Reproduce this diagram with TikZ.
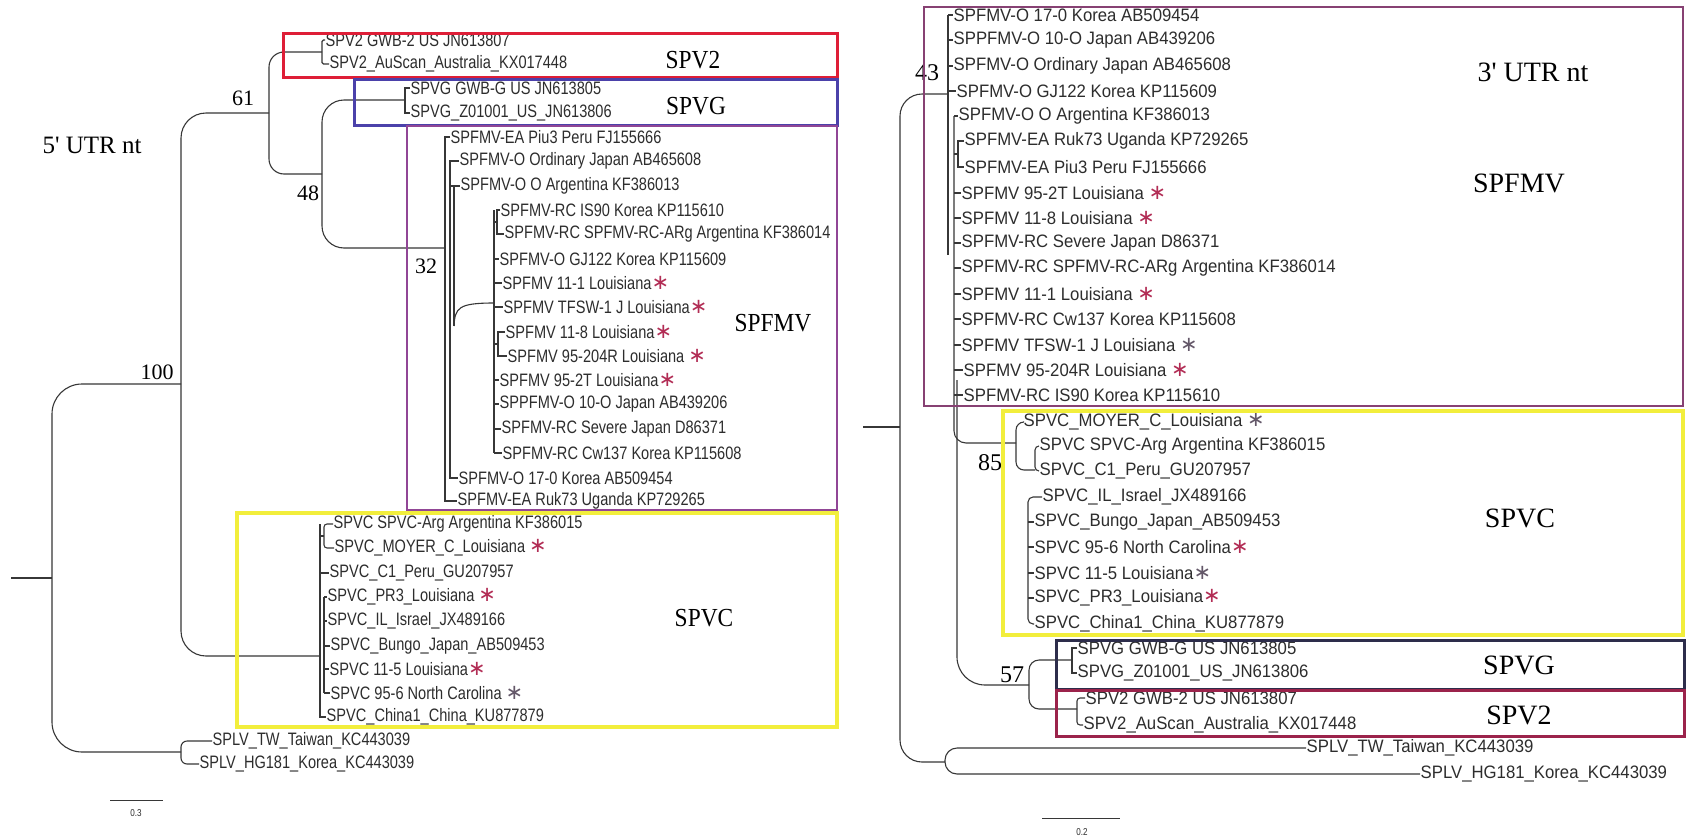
\documentclass[tikz,border=0pt]{standalone}
\usepackage{fontspec}
\setmainfont{Liberation Serif}
\newfontfamily\leafLfont{Liberation Sans}[FakeStretch=0.81]
\newfontfamily\leafRfont{Liberation Sans}[FakeStretch=0.93]
\newfontfamily\symfont{DejaVu Sans}
\newfontfamily\labLfont{Liberation Serif}[FakeStretch=0.9]
\definecolor{treec}{RGB}{55,55,55}
\definecolor{txtc}{RGB}{45,45,45}
\definecolor{starc}{RGB}{178,45,85}
\definecolor{stargray}{RGB}{100,88,105}
\definecolor{boxred}{RGB}{222,30,55}
\definecolor{boxblue}{RGB}{75,65,170}
\definecolor{boxpurple}{RGB}{145,70,150}
\definecolor{boxyellow}{RGB}{242,238,60}
\definecolor{boxpurpleR}{RGB}{135,65,115}
\definecolor{boxnavy}{RGB}{45,45,75}
\definecolor{boxmaroon}{RGB}{155,35,75}
\newcommand{\st}{{\color{starc}\symfont\fontsize{21}{21}\selectfont ∗}}
\newcommand{\sg}{{\color{stargray}\symfont\fontsize{21}{21}\selectfont ∗}}
\tikzset{
  tree/.style={draw=treec, line width=1.1pt},
  lfL/.style={anchor=west, inner sep=0.5pt, text=txtc, font=\leafLfont\fontsize{18}{18}\selectfont},
  lfR/.style={anchor=west, inner sep=0.5pt, text=txtc, font=\leafRfont\fontsize{18}{18}\selectfont},
  bsL/.style={inner sep=0pt, text=black, font=\fontsize{22}{22}\selectfont},
  bsR/.style={inner sep=0pt, text=black, font=\fontsize{24}{24}\selectfont},
  cladeL/.style={inner sep=0pt, text=black, font=\labLfont\fontsize{26}{26}\selectfont},
  cladeR/.style={inner sep=0pt, text=black, font=\fontsize{28}{28}\selectfont},
  scl/.style={inner sep=0pt, text=txtc, font=\leafLfont\fontsize{10}{10}\selectfont}
}
\begin{document}
\begin{tikzpicture}[x=1pt,y=-1pt]
\useasboundingbox (0,0) rectangle (1686,838);
\fill[white] (0,0) rectangle (1686,838);

% ================= LEFT TREE =================
\node[lfL] (L1) at (325,40) {SPV2 GWB-2 US JN613807};
\node[lfL] (L2) at (329,64) {SPV2\_AuScan\_Australia\_KX017448};
\node[lfL] (L3) at (410,88) {SPVG GWB-G US JN613805};
\node[lfL] (L4) at (410,113) {SPVG\_Z01001\_US\_JN613806};
\node[lfL] (L5) at (450,137) {SPFMV-EA Piu3 Peru FJ155666};
\node[lfL] (L6) at (459,161) {SPFMV-O Ordinary Japan AB465608};
\node[lfL] (L7) at (460,186) {SPFMV-O O Argentina KF386013};
\node[lfL] (L8) at (500,210) {SPFMV-RC IS90 Korea KP115610};
\node[lfL] (L9) at (504,234) {SPFMV-RC SPFMV-RC-ARg Argentina KF386014};
\node[lfL] (L10) at (499,259) {SPFMV-O GJ122 Korea KP115609};
\node[lfL] (L11) at (502,283) {SPFMV 11-1 Louisiana\st};
\node[lfL] (L12) at (503,307) {SPFMV TFSW-1 J Louisiana\st};
\node[lfL] (L13) at (505,332) {SPFMV 11-8 Louisiana\st};
\node[lfL] (L14) at (507,356) {SPFMV 95-204R Louisiana \st};
\node[lfL] (L15) at (499,380) {SPFMV 95-2T Louisiana\st};
\node[lfL] (L16) at (499,404) {SPPFMV-O 10-O Japan AB439206};
\node[lfL] (L17) at (501,429) {SPFMV-RC Severe Japan D86371};
\node[lfL] (L18) at (502,453) {SPFMV-RC Cw137 Korea KP115608};
\node[lfL] (L19) at (458,478) {SPFMV-O 17-0 Korea AB509454};
\node[lfL] (L20) at (457,501) {SPFMV-EA Ruk73 Uganda KP729265};
\node[lfL] (L21) at (333,524) {SPVC SPVC-Arg Argentina KF386015};
\node[lfL] (L22) at (334,548) {SPVC\_MOYER\_C\_Louisiana \st};
\node[lfL] (L23) at (329,573) {SPVC\_C1\_Peru\_GU207957};
\node[lfL] (L24) at (327,597) {SPVC\_PR3\_Louisiana \st};
\node[lfL] (L25) at (327,621) {SPVC\_IL\_Israel\_JX489166};
\node[lfL] (L26) at (330,646) {SPVC\_Bungo\_Japan\_AB509453};
\node[lfL] (L27) at (329,669) {SPVC 11-5 Louisiana\st};
\node[lfL] (L28) at (330,693) {SPVC 95-6 North Carolina \sg};
\node[lfL] (L29) at (326,717) {SPVC\_China1\_China\_KU877879};
\node[lfL] (L30) at (212,741) {SPLV\_TW\_Taiwan\_KC443039};
\node[lfL] (L31) at (199,764) {SPLV\_HG181\_Korea\_KC443039};

\coordinate (rootL) at (11,578);
\coordinate (rL) at (52,578);
\coordinate (n100) at (181,384);
\coordinate (nSPLV) at (181,752);
\coordinate (n61) at (269,113);
\coordinate (nSPVC) at (320,656);
\coordinate (nV2) at (322,52);
\coordinate (n48) at (322,174);
\coordinate (nVG) at (405,100);
\coordinate (nFM) at (445,248);
\coordinate (nFM2) at (450,320);
\coordinate (nFM3) at (454,326);
\coordinate (nFM4) at (494,303);
\coordinate (nRC) at (497,222);
\coordinate (nLa) at (498,344);
\coordinate (nC1) at (324,536);
\coordinate (nC2) at (324,645);

\draw[tree] (rootL) -- (rL);
\draw[tree, rounded corners=30pt] (n100) -- (rL|-n100) -- (rL|-nSPLV) -- (nSPLV);
\draw[tree, rounded corners=25pt] (n61) -- (n100|-n61) -- (n100|-nSPVC) -- (nSPVC);
\draw[tree, rounded corners=15pt] (nV2) -- (n61|-nV2) -- (n61|-n48) -- (n48);
\draw[tree, rounded corners=22pt] (nVG) -- (n48|-nVG) -- (n48|-nFM) -- (nFM);
\draw[tree, rounded corners=1.5pt] (L1.west) -- (nV2|-L1) -- (nV2|-L2) -- (L2.west);
\draw[tree] (L3.west) -- (nVG|-L3) -- (nVG|-L4) -- (L4.west);
% SPFMV (left)
\draw[tree] (L5.west) -- (nFM|-L5) -- (nFM|-L20) -- (L20.west);
\draw[tree] (L6.west) -- (nFM2|-L6) -- (nFM2|-L19) -- (L19.west);
\draw[tree] (nFM2|-L7) -- (L7.west);
\draw[tree] (nFM3|-L7) -- (nFM3);
\draw[tree] (nFM3) .. controls (455,308) and (458,303) .. (nFM4);
\draw[tree] (nFM4|-L8) -- (nFM4|-L18);
\draw[tree] (L8.west) -- (nRC|-L8) -- (nRC|-L9) -- (L9.west);
\draw[tree] (nFM4|-nRC) -- (nRC);
\draw[tree] (L13.west) -- (nLa|-L13) -- (nLa|-L14) -- (L14.west);
\draw[tree] (nFM4|-nLa) -- (nLa);
\foreach \l in {L10,L11,L12,L15,L16,L17,L18} \draw[tree] (nFM4|-\l) -- (\l.west);
% SPVC (left)
\draw[tree] (nSPVC|-L21) -- (nSPVC|-L29) -- (L29.west);
\draw[tree, rounded corners=3pt] (L21.west) -- (nC1|-L21) -- (nC1|-L22) -- (L22.west);
\draw[tree] (nSPVC|-nC1) -- (nC1);
\draw[tree] (nSPVC|-L23) -- (L23.west);
\draw[tree] (nC2|-L24) -- (nC2|-L28);
\foreach \l in {L24,L25,L26,L27,L28} \draw[tree] (nC2|-\l) -- (\l.west);
% SPLV (left)
\draw[tree, rounded corners=6pt] (L30.west) -- (nSPLV|-L30) -- (nSPLV|-L31) -- (L31.west);

\node[bsL] (b100) at (157,372) {100};
\node[bsL] (b61) at (243,98) {61};
\node[bsL] (b48) at (308,193) {48};
\node[bsL] (b32) at (426,266) {32};
\node[inner sep=0pt, font=\fontsize{25}{25}\selectfont] (t5) at (92,145) {5\textquotesingle\ UTR nt};

\coordinate (sbL1) at (110,800);
\coordinate (sbL2) at (163,800);
\draw[tree, line width=1pt] (sbL1) -- (sbL2);
\node[scl] (sbLt) at (136,813) {0.3};

\node[cladeL] (cV2) at (693,60) {SPV2};
\node[cladeL] (cVG) at (696,106) {SPVG};
\node[cladeL] (cFM) at (773,323) {SPFMV};
\node[cladeL] (cVC) at (704,618) {SPVC};

\draw[boxred, line width=3pt] (283,33) rectangle (837,77);
\draw[boxblue, line width=3pt] (354,79) rectangle (837,125);
\draw[boxpurple, line width=2.5pt] (407,126) rectangle (837,510);
\draw[boxyellow, line width=4pt] (237,513) rectangle (837,727);

% ================= RIGHT TREE =================
\node[lfR] (R1) at (953,15) {SPFMV-O 17-0 Korea AB509454};
\node[lfR] (R2) at (953,40) {SPPFMV-O 10-O Japan AB439206};
\node[lfR] (R3) at (953,66) {SPFMV-O Ordinary Japan AB465608};
\node[lfR] (R4) at (956,91) {SPFMV-O GJ122 Korea KP115609};
\node[lfR] (R5) at (958,116) {SPFMV-O O Argentina KF386013};
\node[lfR] (R6) at (964,141) {SPFMV-EA Ruk73 Uganda KP729265};
\node[lfR] (R7) at (964,167) {SPFMV-EA Piu3 Peru FJ155666};
\node[lfR] (R8) at (961,193) {SPFMV 95-2T Louisiana \st};
\node[lfR] (R9) at (961,218) {SPFMV 11-8 Louisiana \st};
\node[lfR] (R10) at (961,243) {SPFMV-RC Severe Japan D86371};
\node[lfR] (R11) at (961,268) {SPFMV-RC SPFMV-RC-ARg Argentina KF386014};
\node[lfR] (R12) at (961,294) {SPFMV 11-1 Louisiana \st};
\node[lfR] (R13) at (961,319) {SPFMV-RC Cw137 Korea KP115608};
\node[lfR] (R14) at (961,345) {SPFMV TFSW-1 J Louisiana \sg};
\node[lfR] (R15) at (963,370) {SPFMV 95-204R Louisiana \st};
\node[lfR] (R16) at (963,395) {SPFMV-RC IS90 Korea KP115610};
\node[lfR] (R17) at (1023,422) {SPVC\_MOYER\_C\_Louisiana \sg};
\node[lfR] (R18) at (1039,446) {SPVC SPVC-Arg Argentina KF386015};
\node[lfR] (R19) at (1039,471) {SPVC\_C1\_Peru\_GU207957};
\node[lfR] (R20) at (1042,497) {SPVC\_IL\_Israel\_JX489166};
\node[lfR] (R21) at (1034,522) {SPVC\_Bungo\_Japan\_AB509453};
\node[lfR] (R22) at (1034,547) {SPVC 95-6 North Carolina\st};
\node[lfR] (R23) at (1034,573) {SPVC 11-5 Louisiana\sg};
\node[lfR] (R24) at (1034,598) {SPVC\_PR3\_Louisiana\st};
\node[lfR] (R25) at (1034,624) {SPVC\_China1\_China\_KU877879};
\node[lfR] (R26) at (1077,648) {SPVG GWB-G US JN613805};
\node[lfR] (R27) at (1077,673) {SPVG\_Z01001\_US\_JN613806};
\node[lfR] (R28) at (1085,698) {SPV2 GWB-2 US JN613807};
\node[lfR] (R29) at (1083,725) {SPV2\_AuScan\_Australia\_KX017448};
\node[lfR] (R30) at (1306,748) {SPLV\_TW\_Taiwan\_KC443039};
\node[lfR] (R31) at (1420,774) {SPLV\_HG181\_Korea\_KC443039};

\coordinate (rootR) at (863,427);
\coordinate (rR) at (900,427);
\coordinate (n43) at (948,94);
\coordinate (n43b) at (948,255);
\coordinate (nSPLVr) at (945,762);
\coordinate (nB2) at (954,116);
\coordinate (nB3) at (957,380);
\coordinate (nEA) at (958,154);
\coordinate (n85) at (1016,443);
\coordinate (nArgS) at (1035,470);
\coordinate (nIL) at (1028,560);
\coordinate (n57) at (1029,685);
\coordinate (nVGr) at (1072,660);
\coordinate (nV2r) at (1077,709);

\draw[tree] (rootR) -- (rR);
\draw[tree, rounded corners=22pt] (n43) -- (rR|-n43) -- (rR|-nSPLVr) -- (nSPLVr);
\draw[tree] (n43|-R1) -- (n43b);
\foreach \l in {R1,R2,R3,R4} \draw[tree] (n43|-\l) -- (\l.west);
\draw[tree, rounded corners=12pt] (nB2|-R5) -- (nB2|-n85) -- (n85);
\draw[tree] (nB2|-R5) -- (R5.west);
\draw[tree] (R6.west) -- (nEA|-R6) -- (nEA|-R7) -- (R7.west);
\draw[tree] (nB2|-nEA) -- (nEA);
\foreach \l in {R8,R9,R10,R11,R12,R13,R14,R15,R16} \draw[tree] (nB2|-\l) -- (\l.west);
\draw[tree, rounded corners=28pt] (nB3) -- (nB3|-n57) -- (n57);
% SPVC (right)
\draw[tree, rounded corners=8pt] (R17.west) -- (n85|-R17) -- (n85|-nArgS) -- (nArgS);
\draw[tree, rounded corners=4pt] (R18.west) -- (nArgS|-R18) -- (nArgS|-R19) -- (R19.west);
\draw[tree, rounded corners=5pt] (R20.west) -- (nIL|-R20) -- (nIL|-R25) -- (R25.west);
\foreach \l in {R21,R22,R23,R24} \draw[tree] (nIL|-\l) -- (\l.west);
% SPVG / SPV2 (right)
\draw[tree, rounded corners=10pt] (nVGr) -- (n57|-nVGr) -- (n57|-nV2r) -- (nV2r);
\draw[tree] (R26.west) -- (nVGr|-R26) -- (nVGr|-R27) -- (R27.west);
\draw[tree, rounded corners=3pt] (R28.west) -- (nV2r|-R28) -- (nV2r|-R29) -- (R29.west);
% SPLV (right)
\draw[tree, rounded corners=12pt] (R30.west) -- (nSPLVr|-R30) -- (nSPLVr|-R31) -- (R31.west);

\node[bsR] (b43) at (927,73) {43};
\node[bsR] (b85) at (990,463) {85};
\node[bsR] (b57) at (1012,675) {57};
\node[inner sep=0pt, font=\fontsize{28}{28}\selectfont] (t3) at (1533,72) {3\textquotesingle\ UTR nt};

\coordinate (sbR1) at (1042,818);
\coordinate (sbR2) at (1120,818);
\draw[tree, line width=1pt] (sbR1) -- (sbR2);
\node[scl] (sbRt) at (1082,832) {0.2};

\node[cladeR] (dFM) at (1519,183) {SPFMV};
\node[cladeR] (dVC) at (1520,518) {SPVC};
\node[cladeR] (dVG) at (1519,665) {SPVG};
\node[cladeR] (dV2) at (1519,715) {SPV2};

\draw[boxpurpleR, line width=2.5pt] (924,7) rectangle (1683,406);
\draw[boxyellow, line width=4pt] (1003,411) rectangle (1683,635);
\draw[boxnavy, line width=3pt] (1056,640) rectangle (1684,689);
\draw[boxmaroon, line width=3pt] (1056,690) rectangle (1684,736);
\end{tikzpicture}
\end{document}
